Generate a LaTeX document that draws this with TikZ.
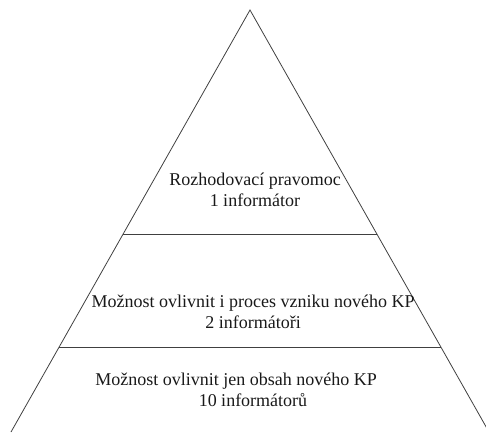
\documentclass[tikz,border=0pt]{standalone}
\usepackage{fontspec}
\setmainfont{Liberation Serif}
\usetikzlibrary{calc}

\begin{document}
\begin{tikzpicture}[
    x=1pt, y=-1pt,
    edge/.style={draw=black!75, line width=0.8pt},
    level/.style={align=center, font=\fontsize{18}{20.5}\selectfont, text=black!90, inner sep=0pt}
]
    \useasboundingbox (0,0) rectangle (486,432);

    % Pyramid
    \coordinate (apex) at (250,10);
    \coordinate (bl) at (11,432);
    \coordinate (br) at (489,432);
    \draw[edge] (bl) -- (apex) -- (br);

    % Levels
    \coordinate (l1) at ($(apex)!0.531!(bl)$);
    \coordinate (r1) at ($(apex)!0.531!(br)$);
    \coordinate (l2) at ($(apex)!0.799!(bl)$);
    \coordinate (r2) at ($(apex)!0.799!(br)$);
    \draw[edge] (l1) -- (r1);
    \draw[edge] (l2) -- (r2);

    % Labels
    \node[level] (top) at (255,190) {Rozhodovací pravomoc\\1 informátor};
    \node[level] (mid) at (253,312) {Možnost ovlivnit i proces vzniku nového KP\\2 informátoři};
    \node[level] (low) at (236,390) {Možnost ovlivnit jen obsah nového KP\\\hspace*{34pt}10 informátorů};
\end{tikzpicture}
\end{document}
